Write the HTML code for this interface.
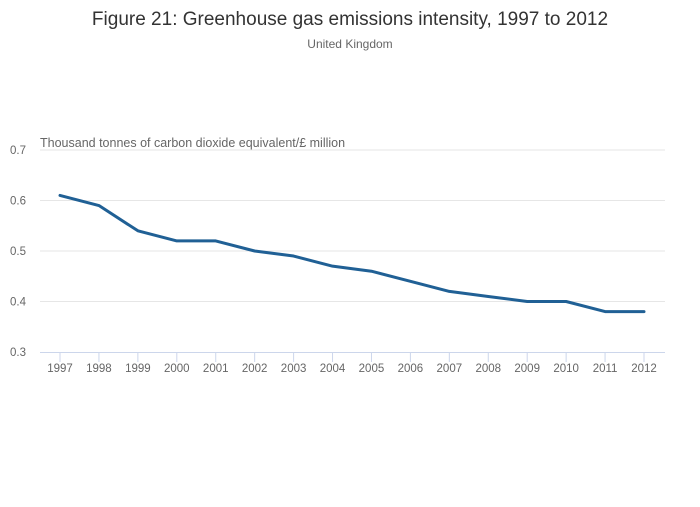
<!DOCTYPE html>
<html><head><meta charset="utf-8"><style>
body{margin:0;background:#fff;font-family:"Liberation Sans",sans-serif;}
</style></head><body>
<svg width="700" height="502" xmlns="http://www.w3.org/2000/svg" font-family="Liberation Sans, sans-serif">
<rect width="700" height="502" fill="#fff"/>
<text x="350" y="25" text-anchor="middle" font-size="19" fill="#333">Figure 21: Greenhouse gas emissions intensity, 1997 to 2012</text>
<text x="350" y="48" text-anchor="middle" font-size="12" fill="#666">United Kingdom</text>
<text x="40" y="147" font-size="12.5" fill="#666">Thousand tonnes of carbon dioxide equivalent/£ million</text>
<g id="grid"></g><g id="xaxis"></g><g id="series"></g>
</svg>
<script>
const years=["1997","1998","1999","2000","2001","2002","2003","2004","2005","2006","2007","2008","2009","2010","2011","2012"];
const values=[0.61,0.59,0.54,0.52,0.52,0.50,0.49,0.47,0.46,0.44,0.42,0.41,0.40,0.40,0.38,0.38];
const yTicks=[0.3,0.4,0.5,0.6,0.7];
const NS="http://www.w3.org/2000/svg";
const x0=60,x1=644,left=40,right=665,yTop=150,yBot=352,vMin=0.3,vMax=0.7;
const xs=i=>x0+(x1-x0)*i/(years.length-1);
const ys=v=>yBot-(v-vMin)/(vMax-vMin)*(yBot-yTop);
function mk(t,a,p){const e=document.createElementNS(NS,t);for(const k in a)e.setAttribute(k,a[k]);p.appendChild(e);return e;}
const g=document.getElementById('grid');
yTicks.forEach(v=>{
 if(v!==vMin){const l=mk('line',{x1:left,x2:right,y1:ys(v),y2:ys(v),stroke:'#e6e6e6'},g);
 
 }
 const t=mk('text',{x:26,y:ys(v)+4,'text-anchor':'end','font-size':11.5,fill:'#666'},g);
 
 
 t.textContent=v.toFixed(1);
});
const xa=document.getElementById('xaxis');
const ax=mk('line',{x1:left,x2:right,y1:yBot+0.5,y2:yBot+0.5,stroke:'#ccd6eb'},xa);


years.forEach((y,i)=>{
 const tk=mk('line',{x1:xs(i),x2:xs(i),y1:yBot,y2:yBot+10,stroke:'#ccd6eb'},xa);
 
 
 const t=mk('text',{x:xs(i),y:yBot+20,'text-anchor':'middle','font-size':11.5,fill:'#666'},xa);
 
 
 t.textContent=y;
});
const s=document.getElementById('series');
const p=mk('path',{d:values.map((v,i)=>(i?'L':'M')+xs(i)+','+ys(v)).join(''),fill:'none',stroke:'#206095','stroke-width':3,'stroke-linejoin':'round','stroke-linecap':'round'},s);


</script>
</body></html>
